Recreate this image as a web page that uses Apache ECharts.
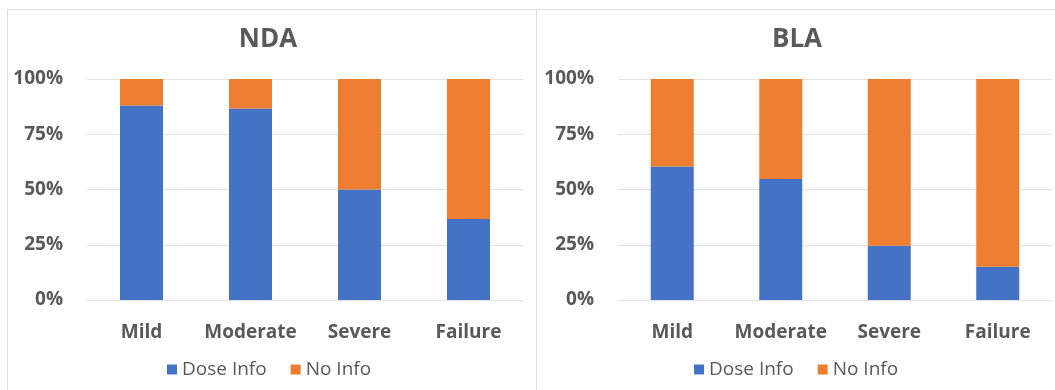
<!DOCTYPE html>
<html>
<head>
<meta charset="utf-8">
<style>
  html, body { margin: 0; padding: 0; background: #ffffff; }
  #chart { width: 1055px; height: 390px; }
</style>
<script src="https://cdn.jsdelivr.net/npm/echarts@6/dist/echarts.min.js"></script>
</head>
<body>
<div id="chart"></div>
<script>
// Share of submissions with dosing information, by hepatic impairment level
const categories = ['Mild', 'Moderate', 'Severe', 'Failure'];
const yTicks = [0, 25, 50, 75, 100];

const ndaDoseInfo = [88.0, 86.7, 50.0, 36.6];
const ndaNoInfo   = [12.0, 13.3, 50.0, 63.4];

const blaDoseInfo = [60.4, 54.7, 24.5, 15.1];
const blaNoInfo   = [39.6, 45.3, 75.5, 84.9];

const BLUE = '#4472C4';
const ORANGE = '#ED7D31';
const TEXT = '#595959';
const GRID = '#E3E3E3';
const FONT = '"Open Sans", "Noto Sans", sans-serif';

const chart = echarts.init(document.getElementById('chart'), null, { renderer: 'canvas' });

function xAxisFor(gridIndex) {
  return {
    type: 'category',
    gridIndex,
    data: categories,
    axisTick: { show: false },
    axisLine: { show: true, lineStyle: { color: GRID, width: 1 } },
    axisLabel: {
      interval: 0, hideOverlap: false,
      color: TEXT, fontFamily: FONT, fontWeight: 'bold', fontSize: 19, margin: 23
    }
  };
}

function yAxisFor(gridIndex) {
  return {
    type: 'value',
    gridIndex,
    min: yTicks[0],
    max: yTicks[yTicks.length - 1],
    interval: yTicks[1] - yTicks[0],
    axisLine: { show: false },
    axisTick: { show: false },
    splitLine: { lineStyle: { color: GRID, width: 1 } },
    axisLabel: {
      color: TEXT, fontFamily: FONT, fontWeight: 'bold', fontSize: 19, margin: 24,
      formatter: v => v + '%'
    }
  };
}

function barSeries(name, data, color, axisIndex, stack) {
  return {
    name,
    type: 'bar',
    stack,
    xAxisIndex: axisIndex,
    yAxisIndex: axisIndex,
    data,
    barWidth: 43,
    itemStyle: { color },
    emphasis: { disabled: true }
  };
}

const legendBase = {
  data: ['Dose Info', 'No Info'],
  icon: 'rect',
  itemWidth: 10,
  itemHeight: 10,
  itemGap: 24,
  padding: 0,
  textStyle: { color: TEXT, fontFamily: FONT, fontSize: 19 }
};

chart.setOption({
  animation: false,
  title: [
    {
      text: 'NDA', left: 268, top: 27, padding: 0, textAlign: 'center',
      textStyle: { color: TEXT, fontFamily: FONT, fontWeight: 'bold', fontSize: 26 }
    },
    {
      text: 'BLA', left: 797, top: 27, padding: 0, textAlign: 'center',
      textStyle: { color: TEXT, fontFamily: FONT, fontWeight: 'bold', fontSize: 26 }
    }
  ],
  legend: [
    Object.assign({}, legendBase, { left: 167, top: 360 }),
    Object.assign({}, legendBase, { left: 694, top: 360 })
  ],
  grid: [
    { left: 87, right: 532, top: 79, bottom: 90 },
    { left: 618, right: 3, top: 79, bottom: 90 }
  ],
  xAxis: [xAxisFor(0), xAxisFor(1)],
  yAxis: [yAxisFor(0), yAxisFor(1)],
  series: [
    barSeries('Dose Info', ndaDoseInfo, BLUE, 0, 'nda'),
    barSeries('No Info', ndaNoInfo, ORANGE, 0, 'nda'),
    barSeries('Dose Info', blaDoseInfo, BLUE, 1, 'bla'),
    barSeries('No Info', blaNoInfo, ORANGE, 1, 'bla')
  ],
  graphic: [
    {
      type: 'rect', silent: true, z: -1,
      shape: { x: 7.5, y: 9.5, width: 529, height: 400 },
      style: { fill: 'none', stroke: '#DDDDDD', lineWidth: 1 }
    },
    {
      type: 'rect', silent: true, z: -1,
      shape: { x: 536.5, y: 9.5, width: 530, height: 400 },
      style: { fill: 'none', stroke: '#DDDDDD', lineWidth: 1 }
    }
  ]
});
</script>
</body>
</html>
